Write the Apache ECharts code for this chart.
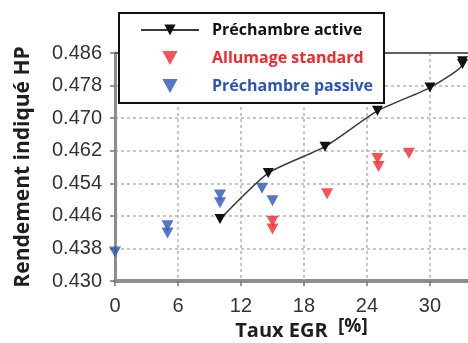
<!DOCTYPE html>
<html>
<head>
<meta charset="utf-8">
<script src="https://cdn.jsdelivr.net/npm/echarts@6/dist/echarts.min.js"></script>
<style>
html,body{margin:0;padding:0;background:#fff;}
#chart{width:468px;height:343px;}
</style>
</head>
<body>
<div id="chart"></div>
<script>
// ---- data ----
const seriesNames = ['Préchambre active', 'Allumage standard', 'Préchambre passive'];
const activeX  = [10, 14.6, 20, 25, 30, 33.1, 33.1];
const activeY  = [0.4452, 0.4565, 0.4630, 0.4718, 0.4775, 0.4833, 0.4840];
const standardX = [15, 15, 20.2, 25, 25.1, 28];
const standardY = [0.4447, 0.4428, 0.4514, 0.4601, 0.4581, 0.4614];
const passiveX = [0, 5, 5, 10, 10, 14, 15];
const passiveY = [0.4371, 0.4436, 0.4418, 0.4511, 0.4492, 0.4528, 0.4497];
const xTicks = [0, 6, 12, 18, 24, 30];
const xMax = 34.29;
const yTicks = [0.430, 0.438, 0.446, 0.454, 0.462, 0.470, 0.478, 0.486];
const xTitle = 'Taux EGR';
const xUnit = '[%]';
const yTitle = 'Rendement indiqué HP';

// y axis is drawn relative to its lowest tick so that min is a multiple of the interval
const Y0 = yTicks[0];
const yStep = yTicks[1] - yTicks[0];
const yRange = yTicks[yTicks.length - 1] - Y0;
const pts = (xs, ys) => xs.map((x, i) => [x, +(ys[i] - Y0).toFixed(6)]);

const RED = '#f2282d', BLUE = '#2a55b8', BLACK = '#111111';
const TRI_DOWN = 'path://M0,0L12,0L6,11Z';
const chart = echarts.init(document.getElementById('chart'), null, {renderer: 'canvas'});
chart.setOption({
  animation: false,
  backgroundColor: '#ffffff',
  grid: {left: 115, width: 360, top: 53, height: 228, outerBoundsMode: 'none', containLabel: false},
  xAxis: [{
    type: 'value', min: 0, max: xMax, interval: 6,
    name: xTitle, nameLocation: 'middle', nameGap: 40,
    nameTextStyle: {fontFamily: 'Open Sans', fontWeight: 'bold', fontSize: 20, color: '#1e1e1e', padding: [0, 27, 0, 0]},
    axisLine: {show: true, onZero: false, lineStyle: {color: '#8e8e8e', width: 4}},
    axisTick: {show: true, inside: false, length: 5, lineStyle: {color: '#777', width: 1.5}},
    axisLabel: {margin: 15, fontFamily: 'Liberation Sans, Arial', fontSize: 20, color: '#333', showMaxLabel: false,
      formatter: v => (xTicks.indexOf(v) >= 0 ? String(v) : '')},
    splitLine: {show: true, lineStyle: {color: '#b4b4b4', type: [3, 3], width: 1.5}}
  }, {
    type: 'value', position: 'top', min: 0, max: xMax, interval: 6,
    axisLine: {show: true, onZero: false, lineStyle: {color: '#5e5e5e', width: 2}},
    axisTick: {show: false}, axisLabel: {show: false}, splitLine: {show: false}
  }],
  yAxis: {
    type: 'value', min: 0, max: +yRange.toFixed(6), interval: +yStep.toFixed(6),
    name: yTitle, nameLocation: 'middle', nameGap: 81, nameRotate: 90,
    nameTextStyle: {fontFamily: 'Open Sans', fontWeight: 'bold', fontSize: 21, color: '#1e1e1e'},
    axisLine: {show: true, onZero: false, lineStyle: {color: '#8e8e8e', width: 3}},
    axisTick: {show: true, inside: false, length: 5, lineStyle: {color: '#777', width: 1.5}},
    axisLabel: {margin: 13, fontFamily: 'Liberation Sans, Arial', fontSize: 20, color: '#333',
      formatter: v => (v + Y0).toFixed(3)},
    splitLine: {show: true, lineStyle: {color: '#b4b4b4', type: [3, 3], width: 1.5}}
  },
  legend: {
    orient: 'vertical', left: 119, top: 13,
    padding: [9, 11, 9, 21], itemGap: 12, itemWidth: 58, itemHeight: 14,
    symbolKeepAspect: true,
    backgroundColor: '#ffffff', borderColor: '#111', borderWidth: 2,
    textStyle: {fontFamily: 'Open Sans', fontWeight: 'bold', fontSize: 16, padding: [0, 0, 0, 8]},
    data: [
      {name: seriesNames[0], textStyle: {color: BLACK}},
      {name: seriesNames[1], icon: TRI_DOWN, textStyle: {color: RED}},
      {name: seriesNames[2], icon: TRI_DOWN, textStyle: {color: BLUE}}
    ]
  },
  graphic: [{
    type: 'text', left: 338, top: 317,
    style: {text: xUnit, fontFamily: 'Open Sans', fontWeight: 'bold', fontSize: 19, fill: '#1e1e1e'}
  }],
  series: [
    {
      name: seriesNames[0], type: 'line', data: pts(activeX, activeY),
      smooth: 0.2, symbol: 'triangle', symbolRotate: 180, symbolSize: [11, 10],
      lineStyle: {color: '#3a3a3a', width: 1.5},
      itemStyle: {color: BLACK}, z: 4
    },
    {
      name: seriesNames[1], type: 'scatter', data: pts(standardX, standardY),
      symbol: 'triangle', symbolRotate: 180, symbolSize: [12, 11],
      itemStyle: {color: RED}, z: 3
    },
    {
      name: seriesNames[2], type: 'scatter', data: pts(passiveX, passiveY),
      symbol: 'triangle', symbolRotate: 180, symbolSize: [12, 11],
      itemStyle: {color: BLUE}, z: 3
    }
  ]
});
</script>
</body>
</html>
